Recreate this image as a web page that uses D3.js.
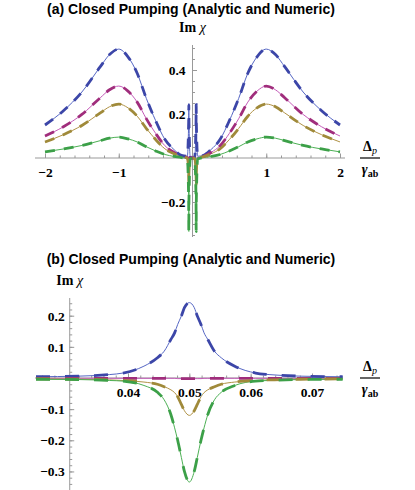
<!DOCTYPE html>
<html>
<head>
<meta charset="utf-8">
<script src="https://cdn.jsdelivr.net/npm/d3@7"></script>
<style>
  body { margin: 0; background: #fff; }
  .title { font-family: "Liberation Sans", Arial, sans-serif; font-weight: bold; font-size: 14px; }
  .lab { font-family: "Liberation Serif", "Times New Roman", serif; font-weight: bold; font-size: 14px; }
  .domain, .tick line { stroke: #999; }
</style>
</head>
<body>
<div id="chart"></div>
<script>
// ======= data =======

var seriesNames = ["s1", "s2", "s3", "s4"];
var dashColors = ["#3c46a8", "#a02d7c", "#a08a3a", "#3ca048"];
var thinColors = ["#5566c4", "#c45ab8", "#b09245", "#4cb054"];

// panel (a): wide scan
var xsA = [-2, -1.75, -1.5, -1.25, -1.125, -1, -0.875, -0.75, -0.625, -0.5, -0.375, -0.25, -0.15, -0.07, -0.052, -0.05, -0.048, -0.03,
  0, 0.03, 0.048, 0.05, 0.052, 0.07, 0.15, 0.25, 0.375, 0.5, 0.625, 0.75, 0.875, 1, 1.125, 1.25, 1.5, 1.75, 2];
var s1A = [0.15, 0.215, 0.30, 0.415, 0.47, 0.495, 0.46, 0.385, 0.27, 0.17, 0.085, 0.038, 0.012, 0.008, 0.165, 0.242, 0.165, 0.005,
  0, 0.005, 0.165, 0.242, 0.165, 0.008, 0.012, 0.038, 0.085, 0.17, 0.27, 0.385, 0.46, 0.495, 0.47, 0.415, 0.30, 0.215, 0.15];
var s2A = [0.10, 0.142, 0.198, 0.274, 0.31, 0.327, 0.304, 0.254, 0.178, 0.112, 0.056, 0.025, 0.008, 0.002, -0.002, -0.002, -0.002, 0.001,
  0, 0.001, -0.002, -0.002, -0.002, 0.002, 0.008, 0.025, 0.056, 0.112, 0.178, 0.254, 0.304, 0.327, 0.31, 0.274, 0.198, 0.142, 0.10];
var s3A = [0.073, 0.106, 0.148, 0.205, 0.233, 0.245, 0.228, 0.19, 0.134, 0.084, 0.042, 0.019, 0.006, -0.001, -0.057, -0.12, -0.057, -0.003,
  0, -0.003, -0.057, -0.12, -0.057, -0.001, 0.006, 0.019, 0.042, 0.084, 0.134, 0.19, 0.228, 0.245, 0.233, 0.205, 0.148, 0.106, 0.073];
var s4A = [0.028, 0.041, 0.057, 0.079, 0.09, 0.095, 0.087, 0.073, 0.051, 0.032, 0.016, 0.007, 0.002, -0.004, -0.19, -0.334, -0.19, -0.005,
  0, -0.005, -0.19, -0.334, -0.19, -0.004, 0.002, 0.007, 0.016, 0.032, 0.051, 0.073, 0.087, 0.095, 0.09, 0.079, 0.057, 0.041, 0.028];

// panel (b): zoom on the narrow feature
var xsB = [0.025, 0.032, 0.037, 0.0392, 0.0426, 0.0448, 0.0459, 0.047, 0.0476, 0.0481, 0.0487, 0.0492, 0.05,
  0.0508, 0.0513, 0.0519, 0.0524, 0.053, 0.0541, 0.0552, 0.0574, 0.0608, 0.063, 0.068, 0.075];
var s1B = [0.004, 0.006, 0.011, 0.016, 0.038, 0.065, 0.086, 0.124, 0.145, 0.172, 0.199, 0.226, 0.242,
  0.226, 0.199, 0.172, 0.145, 0.124, 0.086, 0.065, 0.038, 0.016, 0.011, 0.006, 0.004];
var s2B = [-0.001, -0.001, -0.001, -0.001, -0.001, -0.001, -0.001, -0.001, -0.001, -0.002, -0.002, -0.002, -0.002,
  -0.002, -0.002, -0.002, -0.001, -0.001, -0.001, -0.001, -0.001, -0.001, -0.001, -0.001, -0.001];
var s3B = [-0.003, -0.004, -0.006, -0.008, -0.013, -0.02, -0.028, -0.038, -0.047, -0.06, -0.085, -0.105, -0.12,
  -0.105, -0.085, -0.06, -0.047, -0.038, -0.028, -0.02, -0.013, -0.008, -0.006, -0.004, -0.003];
var s4B = [-0.004, -0.005, -0.008, -0.01, -0.024, -0.046, -0.07, -0.118, -0.16, -0.2, -0.255, -0.30, -0.334,
  -0.30, -0.255, -0.2, -0.16, -0.118, -0.07, -0.046, -0.024, -0.01, -0.008, -0.005, -0.004];

var xTicksA = [-2, -1, 1, 2];
var yTicksA = [-0.2, 0.2, 0.4];
var xTicksB = [0.04, 0.05, 0.06, 0.07];
var yTicksB = [-0.3, -0.2, -0.1, 0.1, 0.2];

// ======= layout =======

var width = 415, height = 490;

var svg = d3.select("#chart").append("svg")
    .attr("width", width)
    .attr("height", height)
    .style("background", "#fff");

drawPanel({
  title: "(a) Closed Pumping (Analytic and Numeric)",
  titleY: 13.5,
  xs: xsA, series: [s1A, s2A, s3A, s4A],
  x: d3.scaleLinear().domain([-2, 2]).range([45, 340]),
  y: d3.scaleLinear().domain([0, 0.4]).range([158, 70]),
  xAxisExtent: [35, 345], yAxisExtent: [45, 237], yAxisAt: 0,
  xTicks: xTicksA, yTicks: yTicksA,
  xMinor: d3.range(-2, 2.001, 0.2), yMinor: d3.range(-0.35, 0.501, 0.05),
  yFmt: d3.format(".1f"), xFmt: d3.format("d"),
  yPad: 7, dash: "10,9"
});

drawPanel({
  title: "(b) Closed Pumping (Analytic and Numeric)",
  titleY: 263.5,
  xs: xsB, series: [s1B, s2B, s3B, s4B],
  x: d3.scaleLinear().domain([0.04, 0.07]).range([128, 312]),
  y: d3.scaleLinear().domain([0, 0.2]).range([378, 315.7]),
  xAxisExtent: [35, 343], yAxisExtent: [298, 490], yAxisAt: 0.0305,
  xTicks: xTicksB, yTicks: yTicksB,
  xMinor: d3.range(0.026, 0.0745, 0.002), yMinor: d3.range(-0.36, 0.25, 0.02),
  yFmt: d3.format(".1f"), xFmt: d3.format(".2f"),
  yPad: 5, dash: "14,15"
});

function styleTicks(s) {
  s.select(".domain").remove();
  s.selectAll("text")
      .style("font-family", "'Liberation Serif', 'Times New Roman', serif")
      .style("font-weight", "bold")
      .style("font-size", "13.5px")
      .style("fill", "#000");
}

function drawPanel(c) {
  var g = svg.append("g");
  var x = c.x, y = c.y;
  var ax = x(c.yAxisAt), ay = y(0);

  g.append("text").attr("class", "title")
      .attr("x", 191).attr("y", c.titleY)
      .attr("text-anchor", "middle")
      .text(c.title);

  // x axis: line + minor ticks + major ticks
  g.append("line")
      .attr("x1", c.xAxisExtent[0]).attr("x2", c.xAxisExtent[1])
      .attr("y1", ay).attr("y2", ay)
      .style("stroke", "#999");
  g.append("g").attr("transform", "translate(0," + ay + ")")
      .call(d3.axisBottom(x).tickValues(c.xMinor).tickSize(-2.5).tickFormat(""))
      .call(styleTicks);
  g.append("g").attr("transform", "translate(0," + ay + ")")
      .call(d3.axisBottom(x).tickValues(c.xTicks).tickSize(-4.5).tickPadding(9).tickFormat(c.xFmt))
      .call(styleTicks);

  // y axis
  g.append("line")
      .attr("x1", ax).attr("x2", ax)
      .attr("y1", c.yAxisExtent[0]).attr("y2", c.yAxisExtent[1])
      .style("stroke", "#999");
  g.append("g").attr("transform", "translate(" + ax + ",0)")
      .call(d3.axisLeft(y).tickValues(c.yMinor).tickSize(-2.5).tickFormat(""))
      .call(styleTicks);
  g.append("g").attr("transform", "translate(" + ax + ",0)")
      .call(d3.axisLeft(y).tickValues(c.yTicks).tickSize(-4.5).tickPadding(c.yPad).tickFormat(c.yFmt))
      .call(styleTicks);

  // y label "Im χ"
  var yl = g.append("text").attr("class", "lab")
      .attr("x", ax).attr("y", c.yAxisExtent[0] - 13.5)
      .attr("text-anchor", "middle");
  yl.append("tspan").text("Im ");
  yl.append("tspan").style("font-style", "italic").style("font-weight", "normal").text("χ");

  // x label Δp / γab
  var lx = 370;
  var top = g.append("text").attr("class", "lab")
      .attr("x", lx).attr("y", ay - 7).attr("text-anchor", "middle");
  top.append("tspan").text("Δ");
  top.append("tspan").attr("dy", 3).style("font-style", "italic").style("font-weight", "normal")
      .style("font-size", "10px").text("p");
  g.append("line").attr("x1", lx - 10).attr("x2", lx + 10)
      .attr("y1", ay).attr("y2", ay).style("stroke", "#000").style("stroke-width", 1.2);
  var bot = g.append("text").attr("class", "lab")
      .attr("x", lx).attr("y", ay + 16).attr("text-anchor", "middle");
  bot.append("tspan").style("font-style", "italic").text("γ");
  bot.append("tspan").attr("dy", 2.5).style("font-size", "10px").text("ab");

  // curves
  var line = d3.line()
      .x(function(d) { return x(d[0]); })
      .y(function(d) { return y(d[1]); })
      .curve(d3.curveMonotoneX);

  c.series.forEach(function(vals, i) {
    var pts = c.xs.map(function(xv, j) { return [xv, vals[j]]; });
    g.append("path").attr("class", "thin " + seriesNames[i])
        .attr("d", line(pts))
        .style("fill", "none").style("stroke", thinColors[i]).style("stroke-width", 1);
  });
  c.series.forEach(function(vals, i) {
    var pts = c.xs.map(function(xv, j) { return [xv, vals[j]]; });
    g.append("path").attr("class", "dashed " + seriesNames[i])
        .attr("d", line(pts))
        .style("fill", "none").style("stroke", dashColors[i]).style("stroke-width", 2.8)
        .style("stroke-dasharray", c.dash);
  });
}
</script>
</body>
</html>
